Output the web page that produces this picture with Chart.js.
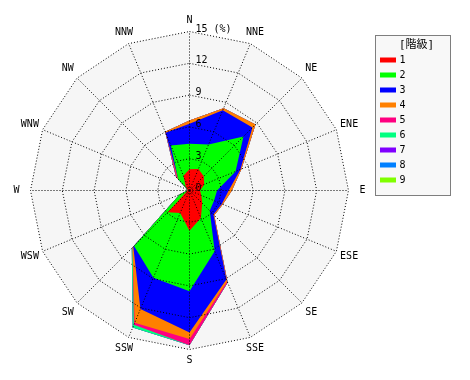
<!DOCTYPE html>
<html>
<head>
<meta charset="utf-8">
<script src="https://cdn.jsdelivr.net/npm/chart.js@4/dist/chart.umd.min.js"></script>
<style>
html,body{margin:0;padding:0;background:#fff;}
canvas{display:block;}
</style>
</head>
<body>
<canvas id="c" width="470" height="380"></canvas>
<script>
// 16 wind directions, clockwise from north
const directions = ['N','NNE','NE','ENE','E','ESE','SE','SSE','S','SSW','SW','WSW','W','WNW','NW','NNW'];
// frequency (%) per wind-speed class (階級)
const class1 = [2.0, 2.2, 1.9, 1.5, 1.0, 1.2, 1.7, 2.8, 3.8, 2.3, 2.9, 0.3, 0.2, 0.2, 0.5, 1.5];
const class2 = [2.4, 2.5, 5.3, 3.2, 1.6, 1.3, 1.0, 3.4, 5.7, 6.6, 4.5, 0.7, 0.0, 0.0, 1.0, 3.1];
const class3 = [1.9, 3.5, 1.2, 0.5, 1.1, 0.8, 0.5, 2.9, 3.9, 3.2, 0.1, 0.0, 0.0, 0.0, 0.0, 1.3];
const class4 = [0.3, 0.2, 0.4, 0.1, 0.3, 0.1, 0.1, 0.2, 0.6, 1.4, 0.1, 0.0, 0.0, 0.0, 0.1, 0.1];
const class5 = [0.0, 0.0, 0.0, 0.0, 0.0, 0.0, 0.0, 0.1, 0.6, 0.2, 0.0, 0.0, 0.0, 0.0, 0.2, 0.0];
const class6 = [0.0, 0.0, 0.0, 0.0, 0.0, 0.0, 0.0, 0.0, 0.0, 0.3, 0.1, 0.0, 0.0, 0.0, 0.0, 0.0];
const class7 = [0, 0, 0, 0, 0, 0, 0, 0, 0, 0, 0, 0, 0, 0, 0, 0];
const class8 = [0, 0, 0, 0, 0, 0, 0, 0, 0, 0, 0, 0, 0, 0, 0, 0];
const class9 = [0, 0, 0, 0, 0, 0, 0, 0, 0, 0, 0, 0, 0, 0, 0, 0];
const classNames = ['1','2','3','4','5','6','7','8','9'];
const classColors = ['#ff0000','#00ff00','#0000ff','#ff8000','#ff0080','#00ff80','#8000ff','#0080ff','#80ff00'];
const tickValues = [0, 3, 6, 9, 12, 15];
const tickLabels = ['0', '3', '6', '9', '12', '15 (%)'];
const legendTitle = '[階級]';

const classes = [class1, class2, class3, class4, class5, class6, class7, class8, class9];
// stacked (cumulative) polygons
const running = directions.map(() => 0);
const datasets = classes.map((arr, k) => {
  const cum = arr.map((v, i) => (running[i] = +(running[i] + v).toFixed(3)));
  return {
    label: classNames[k],
    data: cum,
    backgroundColor: classColors[k],
    borderColor: 'rgba(0,0,0,0)',
    borderWidth: 0,
    pointRadius: 0,
    pointHoverRadius: 0,
    fill: true,
    tension: 0
  };
});

const FONT = "10px 'DejaVu Sans Mono', 'Noto Sans CJK JP', monospace";

const overlay = {
  id: 'overlay',
  beforeDraw(chart) {
    chart.ctx.save();
    chart.ctx.translate(0.5, 0.5);
  },
  beforeDatasetsDraw(chart) {
    const s = chart.scales.r;
    const ctx = chart.ctx;
    ctx.save();
    ctx.beginPath();
    directions.forEach((d, i) => {
      const p = s.getPointPositionForValue(i, s.max);
      if (i === 0) ctx.moveTo(p.x, p.y); else ctx.lineTo(p.x, p.y);
    });
    ctx.closePath();
    ctx.fillStyle = '#f6f6f6';
    ctx.fill();
    ctx.restore();
  },
  afterDraw(chart) {
    const s = chart.scales.r;
    const ctx = chart.ctx;
    ctx.save();
    ctx.fillStyle = '#000';
    ctx.font = FONT;
    // tick labels beside north axis
    ctx.textAlign = 'left';
    ctx.textBaseline = 'alphabetic';
    tickValues.forEach((v, i) => {
      const p = s.getPointPositionForValue(0, v);
      ctx.fillText(tickLabels[i], p.x + 6, p.y);
    });
    // direction labels
    ctx.textAlign = 'center';
    ctx.textBaseline = 'middle';
    directions.forEach((d, i) => {
      const ang = i * Math.PI * 2 / directions.length;
      const dist = s.drawingArea + 11 + 3 * Math.abs(Math.sin(ang));
      const p = s.getPointPosition(i, dist);
      ctx.fillText(d, p.x, p.y);
    });
    // legend box
    const bx = 375, by = 35, bw = 75, bh = 160;
    ctx.fillStyle = '#f8f8f8';
    ctx.fillRect(bx, by, bw, bh);
    ctx.strokeStyle = '#000';
    ctx.lineWidth = 1;
    ctx.setLineDash([1, 1]);
    ctx.strokeRect(bx, by, bw, bh);
    ctx.setLineDash([]);
    ctx.fillStyle = '#000';
    ctx.font = "11px 'DejaVu Sans Mono', 'Noto Sans CJK JP', monospace";
    ctx.textAlign = 'center';
    ctx.fillText(legendTitle, 416, 45);
    ctx.font = FONT;
    ctx.textAlign = 'left';
    classNames.forEach((n, k) => {
      const y = 60 + 15 * k;
      ctx.fillStyle = classColors[k];
      ctx.fillRect(379.5, y - 3, 16, 5);
      ctx.fillStyle = '#000';
      ctx.fillText(n, 399, y);
    });
    ctx.restore();
    ctx.restore();
  }
};

new Chart(document.getElementById('c'), {
  type: 'radar',
  data: { labels: directions, datasets },
  options: {
    responsive: false,
    animation: false,
    events: [],
    layout: { padding: { left: 30, top: 31, right: 122, bottom: 31 } },
    plugins: { legend: { display: false }, tooltip: { enabled: false } },
    elements: { line: { borderWidth: 0 } },
    scales: {
      r: {
        min: 0,
        max: 15,
        ticks: { display: false, stepSize: 3 },
        grid: { color: '#000', lineWidth: 1, z: 1 },
        border: { dash: [1, 2] },
        angleLines: { display: true, color: '#000', lineWidth: 1, borderDash: [1, 2] },
        pointLabels: { display: false }
      }
    }
  },
  plugins: [overlay]
});
</script>
</body>
</html>
